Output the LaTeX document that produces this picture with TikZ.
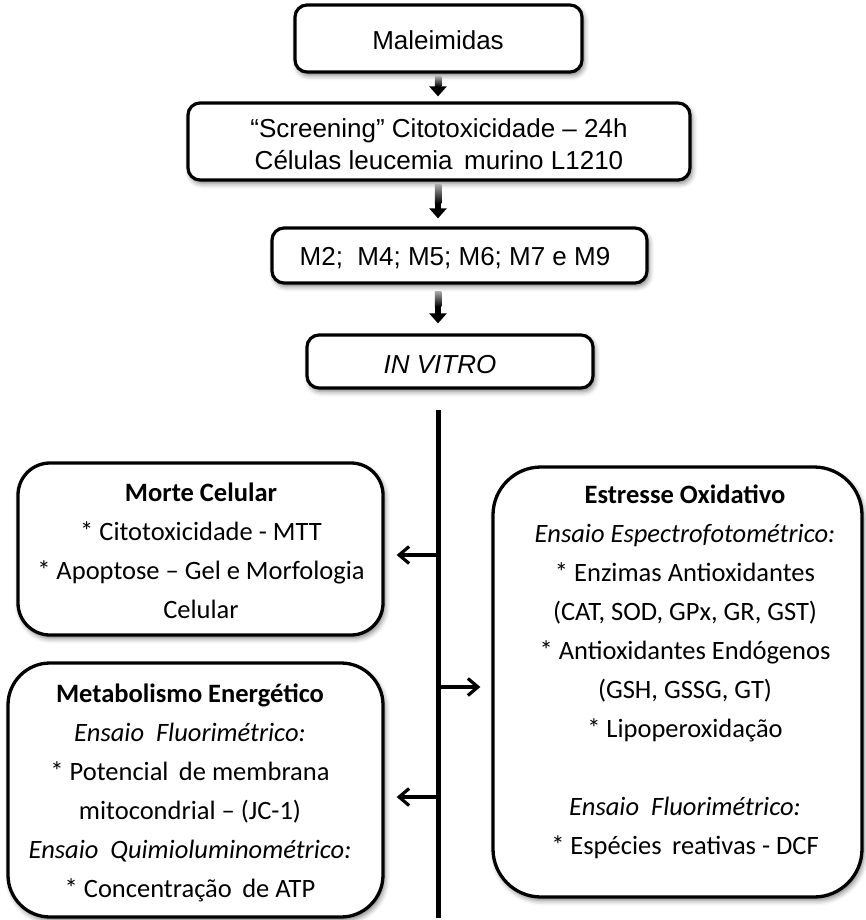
\documentclass[tikz,border=0pt]{standalone}
\usepackage{fontspec}
\setmainfont{Carlito}
\newfontfamily\arialfont{Liberation Sans}
\usetikzlibrary{arrows.meta,shadows.blur,calc}
\begin{document}
\begin{tikzpicture}[x=1pt,y=-1pt,
  boxshadow/.style={blur shadow={shadow xshift=2pt,shadow yshift=-3.5pt,shadow blur radius=5pt,shadow opacity=50}},
  topbox/.style={draw,line width=3.2pt,rounded corners=12pt,fill=white,boxshadow,inner sep=0pt},
  lowbox/.style={draw,line width=3.3pt,fill=white,boxshadow,inner sep=0pt},
  toptext/.style={font=\arialfont\fontsize{26}{32}\selectfont,align=center,inner sep=0pt},
  lowtext/.style={font=\fontsize{26.5}{39}\selectfont,align=center,inner sep=0pt},
  downarrow/.style={line width=6.5pt,-{Triangle[width=17pt,length=10pt]}},
  shaftfade/.style={top color=black!35,bottom color=black},
  sidearrow/.style={line width=3.2pt,-{Straight Barb[length=10pt,width=17pt,line width=3.2pt]}},
  trunk/.style={line width=5pt}
]
\useasboundingbox (0,0) rectangle (865,920);

% top boxes
\node[topbox,minimum width=287pt,minimum height=67pt] (mal) at (438.5,38.5) {};
\node[toptext] (malt) at (438,40) {Maleimidas};

\node[topbox,minimum width=502pt,minimum height=77pt] (scr) at (439,141.5) {};
\node[toptext] (scrt) at (439,144) {“Screening” Citotoxicidade – 24h\\Células leucemia\ \,murino L1210};

\node[topbox,minimum width=375pt,minimum height=55pt] (mset) at (459.5,255.5) {};
\node[toptext] (msett) at (455,258) {M2;\ \ M4; M5; M6; M7 e M9};

\node[topbox,minimum width=286pt,minimum height=53pt] (inv) at (450,361.5) {};
\node[toptext] (invt) at (440,365) {\itshape IN VITRO};

% trunk
\coordinate (ttop) at (438,410);
\coordinate (tbot) at (438,918);
\draw[trunk] (ttop) -- (tbot);

% down arrows
\draw[downarrow,shorten <=3pt,shorten >=5pt] (mal.south -| ttop) -- (scr.north -| ttop);
\shade[shaftfade] ($(mal.south -| ttop)+(-3.25,3)$) rectangle ($(mal.south -| ttop)+(3.25,13)$);
\draw[downarrow,shorten <=3pt,shorten >=8pt] (scr.south -| ttop) -- (mset.north -| ttop);
\shade[shaftfade] ($(scr.south -| ttop)+(-3.25,3)$) rectangle ($(scr.south -| ttop)+(3.25,22)$);
\draw[downarrow,shorten <=7pt,shorten >=10pt] (mset.south -| ttop) -- (inv.north -| ttop);
\shade[shaftfade] ($(mset.south -| ttop)+(-3.25,7)$) rectangle ($(mset.south -| ttop)+(3.25,22)$);

% lower boxes
\node[lowbox,rounded corners=32pt,minimum width=365pt,minimum height=172pt] (morte) at (200.5,549) {};
\node[lowtext] (mortet) at (201,551) {\textbf{Morte Celular}\\* Citotoxicidade - MTT\\* Apoptose – Gel e Morfologia\\Celular};

\node[lowbox,rounded corners=42pt,minimum width=375pt,minimum height=254pt] (metab) at (195.5,790) {};
\node[lowtext] (metabt) at (190,792.5) {\textbf{Metabolismo Energético}\\\textit{Ensaio\ \ Fluorimétrico:}\\* Potencial\ \,de membrana\\mitocondrial – (JC-1)\\\textit{Ensaio\ \ Quimioluminométrico:}\\* Concentração\ \,de ATP};

\node[lowbox,rounded corners=48pt,minimum width=369pt,minimum height=430pt] (estr) at (677.5,682) {};
\node[lowtext] (estrt) at (685,672) {\textbf{Estresse Oxidativo}\\\textit{Ensaio Espectrofotométrico:}\\* Enzimas Antioxidantes\\(CAT, SOD, GPx, GR, GST)\\* Antioxidantes Endógenos\\(GSH, GSSG, GT)\\* Lipoperoxidação\\[39pt]\textit{Ensaio\ \ Fluorimétrico:}\\* Espécies\ \,reativas - DCF};

% branch arrows
\coordinate (br1) at (438,555);
\coordinate (br2) at (438,687);
\coordinate (br3) at (438,797);
\draw[sidearrow,shorten >=12pt] (br1) -- (morte.east |- br1);
\draw[sidearrow,shorten >=11pt] (br2) -- (estr.west |- br2);
\draw[sidearrow,shorten >=12pt] (br3) -- (metab.east |- br3);
\end{tikzpicture}
\end{document}
